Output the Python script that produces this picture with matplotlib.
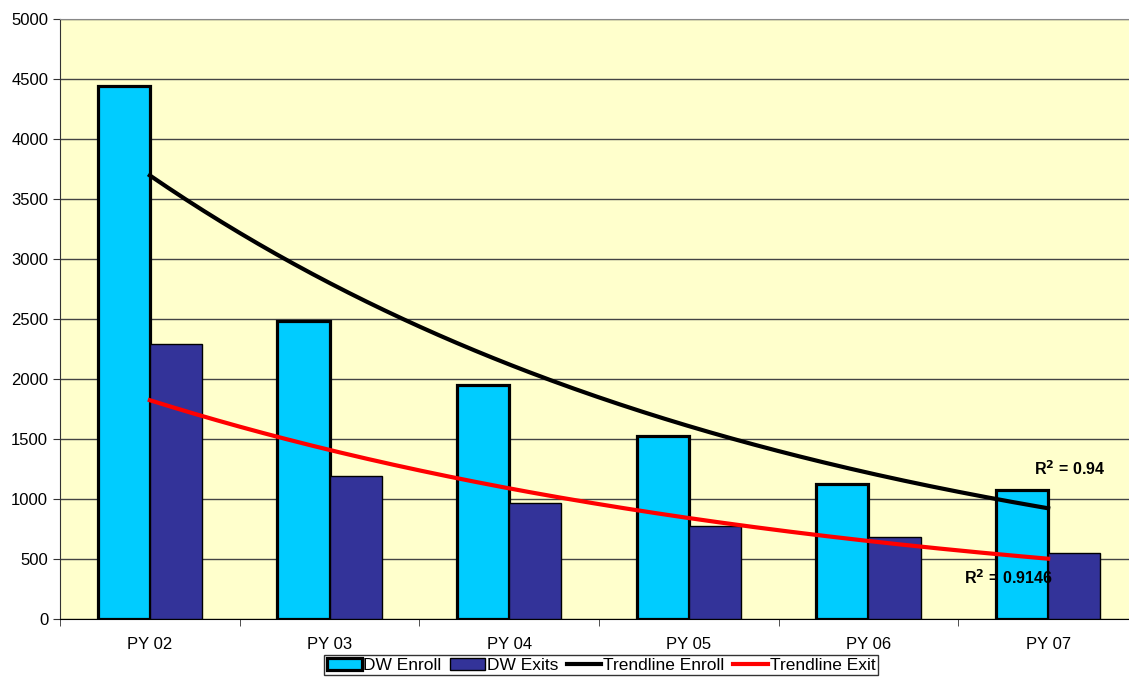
import numpy as np
import matplotlib.pyplot as plt
from matplotlib.patches import Patch
from matplotlib.lines import Line2D

plt.rcParams['font.family'] = ['Liberation Sans', 'DejaVu Sans']

#data
years = ["PY 02", "PY 03", "PY 04", "PY 05", "PY 06", "PY 07"]
enroll = [4442, 2483, 1950, 1525, 1125, 1075]
exits = [2290, 1192, 967, 775, 683, 550]

x = np.arange(len(years))
w = 0.29

fig = plt.figure(figsize=(11.29, 6.79), dpi=100)
ax = fig.add_axes([60/1129, 60/679, 1078/1129, 600/679])
ax.set_facecolor("#FFFFCC")

ax.bar(x - w/2, enroll, w, color="#00CCFF", edgecolor="black", linewidth=2.3, zorder=3)
ax.bar(x + w/2, exits, w, color="#333399", edgecolor="black", linewidth=1.0, zorder=3)

########### exponential trendlines (fit on log values) #########
n = np.arange(1, len(years) + 1)
xs = np.linspace(1, len(years), 200)

def exp_fit(vals):
    b, a = np.polyfit(n, np.log(vals), 1)
    return np.exp(a + b*xs)

ax.plot(xs - 1, exp_fit(enroll), color="black", lw=3, zorder=4)
ax.plot(xs - 1, exp_fit(exits), color="#FF0000", lw=3, zorder=4)

ax.text(5.12, 1250, r"R$^{\mathbf{2}}$ = 0.94", fontsize=11.5, fontweight="bold",
        ha="center", va="center", zorder=5)
ax.text(4.78, 345, r"R$^{\mathbf{2}}$ = 0.9146", fontsize=11.5, fontweight="bold",
        ha="center", va="center", zorder=5)

ax.set_xlim(-0.5, 5.5)
ax.set_ylim(0, 5000)
ax.set_yticks(np.arange(0, 5001, 500))
ax.yaxis.grid(True, color="#444444", lw=1, zorder=0)
ax.set_axisbelow(True)

ax.set_xticks(x)
ax.set_xticklabels(years)
ax.set_xticks(np.arange(-0.5, 6, 1), minor=True)
ax.tick_params(axis="x", which="major", length=0, labelsize=12, pad=13)
ax.tick_params(axis="x", which="minor", length=5, color="#333333")
ax.tick_params(axis="y", length=5, labelsize=12, color="#333333")

ax.spines["top"].set_color("#888888")
ax.spines["right"].set_visible(False)
ax.spines["left"].set_color("#333333")
ax.spines["bottom"].set_color("black")

handles = [
    Patch(facecolor="#00CCFF", edgecolor="black", linewidth=2.3),
    Patch(facecolor="#333399", edgecolor="black", linewidth=1.0),
    Line2D([], [], color="black", lw=3),
    Line2D([], [], color="#FF0000", lw=3),
]
labels = ["DW Enroll", "DW Exits", "Trendline Enroll", "Trendline Exit"]
leg = fig.legend(handles, labels, loc="upper center", bbox_to_anchor=(601/1129, 1 - 655/679),
                 ncol=4, fontsize=12.5, frameon=True, fancybox=False, edgecolor="black",
                 handlelength=2.0, handleheight=0.7, handletextpad=0.1, columnspacing=0.5,
                 borderpad=0.15, borderaxespad=0)
leg.get_frame().set_linewidth(1.0)

fig.savefig("out.png", dpi=100)
